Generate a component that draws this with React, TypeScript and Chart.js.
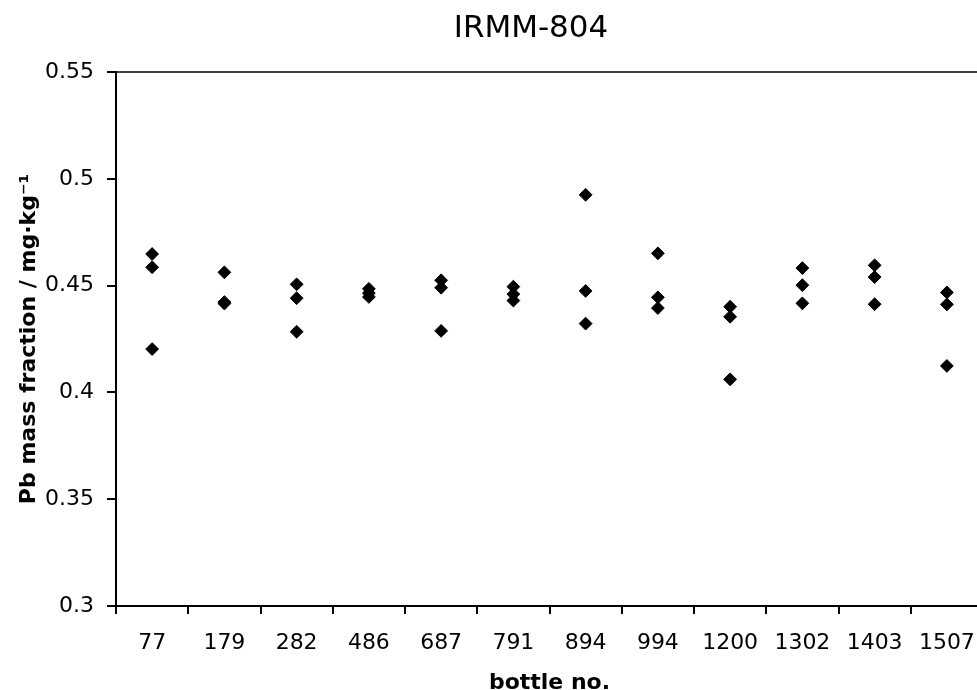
import React, { useEffect, useRef } from "react";
import { Chart, registerables } from "chart.js";

Chart.register(...registerables);

const chartTitle = "IRMM-804";
const xTitle = "bottle no.";
const yTitle = "Pb mass fraction / mg·kg⁻¹";

const bottles = ["77", "179", "282", "486", "687", "791", "894", "994", "1200", "1302", "1403", "1507"];
const upperValues = [0.4648, 0.4562, 0.4506, 0.4485, 0.4525, 0.4495, 0.4925, 0.4651, 0.4401, 0.4582, 0.4595, 0.4468];
const middleValues = [0.4586, 0.4423, 0.4441, 0.4465, 0.449, 0.446, 0.4475, 0.4445, 0.4354, 0.4502, 0.454, 0.4412];
const lowerValues = [0.4203, 0.4416, 0.4284, 0.4447, 0.4288, 0.443, 0.4322, 0.4395, 0.4061, 0.4417, 0.4413, 0.4124];

const yMin = 0.3;
const yMax = 0.55;
const yStep = 0.05;

const FONT = "'DejaVu Sans', sans-serif";

const frameTop = {
  id: "frameTop",
  afterDraw(chart: any) {
    const { ctx, chartArea } = chart;
    ctx.save();
    ctx.strokeStyle = "#000";
    ctx.lineWidth = 1.5;
    ctx.beginPath();
    ctx.moveTo(chartArea.left, chartArea.top);
    ctx.lineTo(chartArea.right, chartArea.top);
    ctx.lineTo(chartArea.right, chartArea.bottom);
    ctx.stroke();
    ctx.restore();
  },
};

export default function App() {
  const ref = useRef<HTMLCanvasElement | null>(null);

  useEffect(() => {
    if (!ref.current) return;
    const mk = (label: string, data: number[]) => ({
      label,
      data,
      showLine: false,
      pointStyle: "rectRot",
      pointRadius: 6.4,
      pointBorderWidth: 1,
      pointBackgroundColor: "#000",
      pointBorderColor: "#000",
      backgroundColor: "#000",
      borderColor: "#000",
    });
    const chart = new Chart(ref.current, {
      type: "line",
      data: {
        labels: bottles,
        datasets: [mk("a", upperValues), mk("b", middleValues), mk("c", lowerValues)],
      },
      plugins: [frameTop],
      options: {
        animation: false,
        responsive: false,
        maintainAspectRatio: false,
        layout: { padding: 0 },
        plugins: {
          legend: { display: false },
          tooltip: { enabled: false },
          title: {
            display: true,
            text: chartTitle,
            color: "#000",
            font: { family: FONT, size: 31, weight: "normal", lineHeight: 1.2 },
            padding: { top: 10.4, bottom: 24.4 },
          },
        },
        scales: {
          x: {
            type: "category",
            offset: true,
            grid: {
              offset: true,
              drawOnChartArea: false,
              drawTicks: true,
              tickLength: 8,
              color: "#000",
              lineWidth: 2,
            },
            border: { display: true, color: "#000", width: 2 },
            ticks: {
              color: "#000",
              font: { family: FONT, size: 22 },
              padding: 16,
              maxRotation: 0,
              autoSkip: false,
            },
            title: {
              display: true,
              text: xTitle,
              color: "#000",
              font: { family: FONT, size: 22, weight: "bold" },
              padding: { top: 0, bottom: 0 },
            },
            afterFit: (s: any) => {
              s.height = 90;
            },
          },
          y: {
            type: "linear",
            position: "left",
            min: yMin,
            max: yMax,
            grid: {
              drawOnChartArea: false,
              drawTicks: true,
              tickLength: 9,
              color: "#000",
              lineWidth: 2,
            },
            border: { display: true, color: "#000", width: 2 },
            ticks: {
              stepSize: yStep,
              color: "#000",
              font: { family: FONT, size: 22 },
              padding: 13,
              callback: (v: any) => String(Number(Number(v).toFixed(2))),
            },
            title: {
              display: true,
              text: yTitle,
              color: "#000",
              font: { family: FONT, size: 22, weight: "bold" },
              padding: { top: 16, bottom: 0 },
            },
            afterFit: (s: any) => {
              s.width = 116;
            },
          },
          y2: {
            type: "linear",
            position: "right",
            min: 0,
            max: 1,
            grid: { display: false, drawTicks: false },
            border: { display: false },
            ticks: { display: false },
            afterFit: (s: any) => {
              s.width = 79;
            },
          },
        },
      },
    } as any);
    return () => chart.destroy();
  }, []);

  return (
    <div
      style={{
        position: "fixed",
        left: 0,
        top: 0,
        width: 977,
        height: 690,
        overflow: "hidden",
        background: "#fff",
      }}
    >
      <canvas ref={ref} width={1062} height={696} style={{ display: "block", width: 1062, height: 696 }} />
    </div>
  );
}
